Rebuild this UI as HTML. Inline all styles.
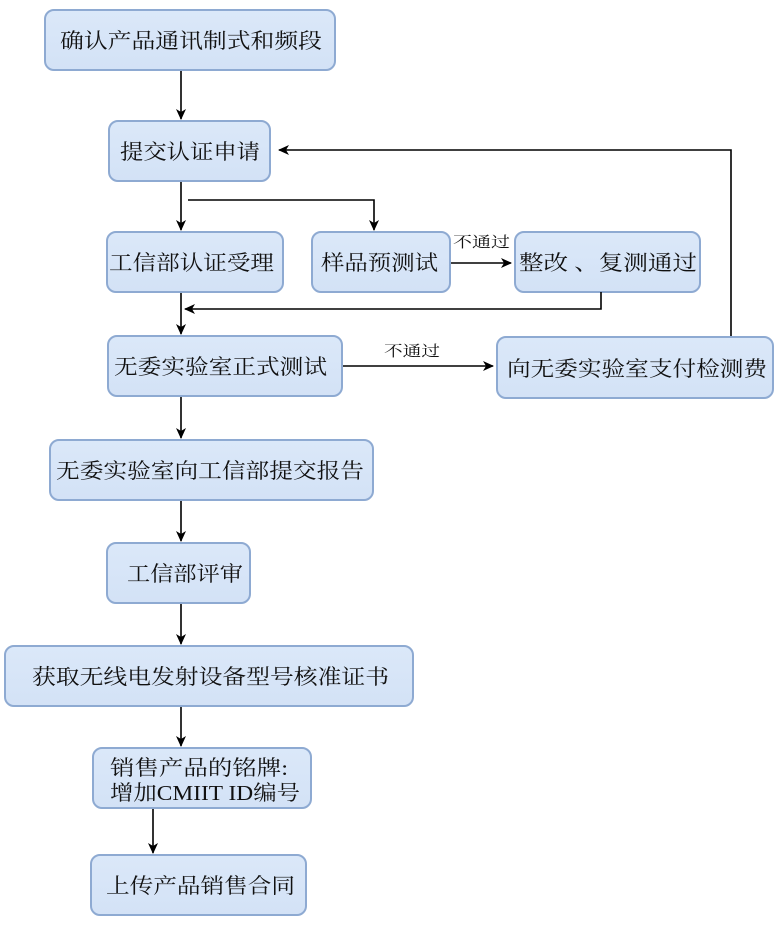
<!DOCTYPE html>
<html><head><meta charset="utf-8"><style>
html,body{margin:0;padding:0;background:#fff;}
svg{display:block}
text{font-family:"Liberation Serif","Noto Serif CJK SC","Noto Sans CJK SC",serif;fill:#111;}
</style></head><body>
<svg width="779" height="933" viewBox="0 0 779 933" xmlns="http://www.w3.org/2000/svg">
<defs>
<linearGradient id="g" x1="0" y1="0" x2="0" y2="1">
<stop offset="0" stop-color="#dbe8f9"/><stop offset="1" stop-color="#d3e2f6"/>
</linearGradient>
<marker id="a" markerWidth="12" markerHeight="12" refX="10" refY="5" orient="auto" markerUnits="userSpaceOnUse">
<path d="M0,0 L11,5 L0,10 L3,5 z" fill="#000"/>
</marker>
</defs>
<g fill="url(#g)" stroke="#8eaad2" stroke-width="2">
<rect x="45" y="10" width="290" height="60" rx="9"/>
<rect x="109" y="121" width="161" height="60" rx="9"/>
<rect x="107" y="232" width="176" height="60" rx="9"/>
<rect x="312" y="232" width="138" height="60" rx="9"/>
<rect x="515" y="232" width="185" height="60" rx="9"/>
<rect x="108" y="336" width="234" height="60" rx="9"/>
<rect x="497" y="337" width="276" height="61" rx="9"/>
<rect x="50" y="440" width="323" height="60" rx="9"/>
<rect x="107" y="543" width="143" height="60" rx="9"/>
<rect x="5" y="646" width="408" height="60" rx="9"/>
<rect x="93" y="748" width="218" height="60" rx="9"/>
<rect x="91" y="855" width="215" height="60" rx="9"/>
</g>
<g font-size="21">
<text x="60" y="48" textLength="262" lengthAdjust="spacingAndGlyphs">确认产品通讯制式和频段</text>
<text x="120" y="159" textLength="140" lengthAdjust="spacingAndGlyphs">提交认证申请</text>
<text x="109" y="270" textLength="165" lengthAdjust="spacingAndGlyphs">工信部认证受理</text>
<text x="321" y="270" textLength="117" lengthAdjust="spacingAndGlyphs">样品预测试</text>
<text x="519" y="270" textLength="178" lengthAdjust="spacingAndGlyphs">整改 、复测通过</text>
<text x="114" y="374" textLength="213" lengthAdjust="spacingAndGlyphs">无委实验室正式测试</text>
<text x="507" y="376" textLength="260" lengthAdjust="spacingAndGlyphs">向无委实验室支付检测费</text>
<text x="56" y="478" textLength="308" lengthAdjust="spacingAndGlyphs">无委实验室向工信部提交报告</text>
<text x="127" y="581" textLength="116" lengthAdjust="spacingAndGlyphs">工信部评审</text>
<text x="32" y="684" textLength="357" lengthAdjust="spacingAndGlyphs">获取无线电发射设备型号核准证书</text>
<text x="110" y="775" textLength="178" lengthAdjust="spacingAndGlyphs">销售产品的铭牌:</text>
<text x="110" y="800" textLength="190" lengthAdjust="spacingAndGlyphs">增加CMIIT ID编号</text>
<text x="106" y="893" textLength="189" lengthAdjust="spacingAndGlyphs">上传产品销售合同</text>
</g>
<g font-size="15">
<text x="453" y="247" textLength="57" lengthAdjust="spacingAndGlyphs">不通过</text>
<text x="384" y="356" textLength="56" lengthAdjust="spacingAndGlyphs">不通过</text>
</g>
<g stroke="#000" stroke-width="1.6" fill="none" marker-end="url(#a)">
<path d="M181,71 V119"/>
<path d="M181,182 V230"/>
<path d="M188,200 H374 V230"/>
<path d="M451,263 H511"/>
<path d="M601,292 V309 H185"/>
<path d="M181,293 V334"/>
<path d="M343,366 H493"/>
<path d="M731,336 V150 H279"/>
<path d="M181,397 V438"/>
<path d="M181,501 V541"/>
<path d="M181,604 V644"/>
<path d="M181,707 V746"/>
<path d="M153,809 V853"/>
</g>
</svg>
</body></html>
